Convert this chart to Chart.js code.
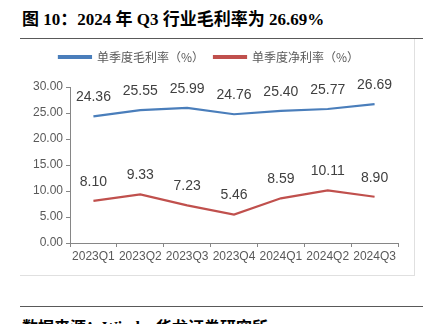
<!DOCTYPE html>
<html>
<head>
<meta charset="utf-8">
<script src="https://cdn.jsdelivr.net/npm/chart.js@4"></script>
<style>
  html, body { margin: 0; padding: 0; background: #fff; }
  body { width: 423px; height: 324px; position: relative; overflow: hidden; }
  .title {
    position: absolute; left: 22px; top: 5px; white-space: nowrap;
    font: bold 17px "Liberation Serif", "Noto Sans CJK SC", serif; color: #000;
  }
  .rule { position: absolute; left: 20px; right: 0; height: 1.5px; background: #595959; }
  .box {
    position: absolute; left: 20px; top: 39px; width: 394px; height: 236px;
    border-right: 1px solid #e0e0e0; border-bottom: 1px solid #e0e0e0;
  }
  .source {
    position: absolute; left: 22px; top: 314px; white-space: nowrap;
    font: bold 16px "Liberation Serif", "Noto Sans CJK SC", serif; color: #000;
  }
</style>
</head>
<body>
<div class="title">图 10：2024 年 Q3 行业毛利率为 26.69%</div>
<div class="rule" style="top:37.5px"></div>
<div class="box"><canvas id="chart" width="394" height="236"></canvas></div>
<div class="rule" style="top:305.5px"></div>
<div class="source">数据来源：Wind，华龙证券研究所</div>

<script>
// quarters on the x axis
const quarters = ['2023Q1', '2023Q2', '2023Q3', '2023Q4', '2024Q1', '2024Q2', '2024Q3']
// single-quarter gross margin (%)
const grossMargin = [24.36, 25.55, 25.99, 24.76, 25.40, 25.77, 26.69]
// single-quarter net margin (%)
const netMargin = [8.10, 9.33, 7.23, 5.46, 8.59, 10.11, 8.90]
const seriesNames = ['单季度毛利率（%）', '单季度净利率（%）']

const axisColor = '#868686'
const tickColor = '#595959'

// draws the value above each point, like the excel data labels
const valueLabels = {
  id: 'valueLabels',
  afterDatasetsDraw(chart) {
    const { ctx } = chart
    ctx.save()
    ctx.font = '14px "Liberation Sans", sans-serif'
    ctx.fillStyle = '#404040'
    ctx.textAlign = 'center'
    ctx.textBaseline = 'middle'
    chart.data.datasets.forEach((ds, i) => {
      chart.getDatasetMeta(i).data.forEach((pt, j) => {
        ctx.fillText(ds.data[j].toFixed(2), pt.x, pt.y - 19)
      })
    })
    ctx.restore()
  },
}

// leave a little more room under the legend
const legendRoom = {
  id: 'legendRoom',
  afterInit(chart) {
    const lg = chart.legend
    if (!lg) return
    const fit = lg.fit
    lg.fit = function () { fit.call(this); this.height += 14 }
  },
}

new Chart(document.getElementById('chart'), {
  type: 'line',
  data: {
    labels: quarters,
    datasets: [
      { label: seriesNames[0], data: grossMargin, borderColor: '#4a7ebb', backgroundColor: '#4a7ebb', borderWidth: 2.2, pointRadius: 0, tension: 0 },
      { label: seriesNames[1], data: netMargin, borderColor: '#c0504d', backgroundColor: '#c0504d', borderWidth: 2.2, pointRadius: 0, tension: 0 },
    ],
  },
  options: {
    responsive: false,
    animation: false,
    layout: { padding: { top: 2, right: 16, left: 0, bottom: 0 } },
    plugins: {
      legend: {
        position: 'top',
        labels: {
          boxWidth: 32,
          boxHeight: 2,
          padding: 10,
          color: tickColor,
          font: { family: '"Noto Sans CJK SC", sans-serif', size: 12 },
        },
      },
      tooltip: { enabled: false },
    },
    scales: {
      x: {
        offset: true,
        grid: { offset: true, drawOnChartArea: false, drawTicks: true, tickLength: 4, color: axisColor },
        border: { color: axisColor, width: 1 },
        ticks: { color: tickColor, font: { family: '"Liberation Sans", sans-serif', size: 12 }, maxRotation: 0, padding: 2 },
        afterFit: s => { s.height = 32 },
      },
      y: {
        min: 0,
        max: 30,
        grid: { drawOnChartArea: false, drawTicks: true, tickLength: 4, color: axisColor },
        border: { color: axisColor, width: 1 },
        ticks: {
          stepSize: 5,
          color: tickColor,
          padding: 3,
          font: { family: '"Liberation Sans", sans-serif', size: 12 },
          callback: v => v.toFixed(2),
        },
        afterFit: s => { s.width = 50 },
      },
    },
  },
  plugins: [valueLabels, legendRoom],
})
</script>
</body>
</html>
